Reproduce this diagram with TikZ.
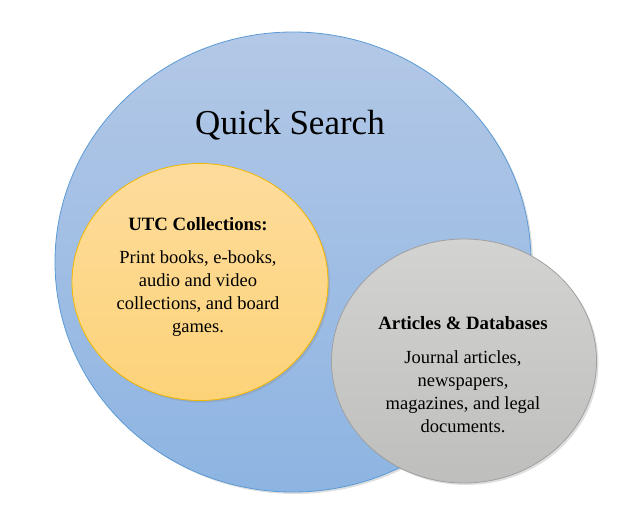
\documentclass[tikz,border=0pt]{standalone}
\usepackage{fontspec}
\setmainfont{Liberation Serif}
\usetikzlibrary{shapes.geometric,shadows,positioning}
\definecolor{searchtop}{HTML}{B3C8E6}
\definecolor{searchbot}{HTML}{8DB4E2}
\definecolor{searchline}{HTML}{5B9BD5}
\definecolor{utctop}{HTML}{FDDC9C}
\definecolor{utcbot}{HTML}{FDD379}
\definecolor{utcline}{HTML}{F2B700}
\definecolor{arttop}{HTML}{D3D4D1}
\definecolor{artbot}{HTML}{BEBFBC}
\definecolor{artline}{HTML}{A0A0A0}
\tikzset{
  blob/.style={ellipse,inner sep=0pt,thick,
    drop shadow={opacity=0.25,shadow xshift=2pt,shadow yshift=-2pt}},
  head/.style={inner sep=0pt,font=\fontsize{18.8}{22}\selectfont\bfseries},
  body/.style={inner sep=0pt,align=center,font=\fontsize{18.5}{23}\selectfont},
}

\begin{document}
\begin{tikzpicture}[x=1pt,y=-1pt]
\useasboundingbox (0,0) rectangle (639,516);

\node[blob,minimum width=476pt,minimum height=460pt,top color=searchtop,
  bottom color=searchbot,draw=searchline] (search) at (293,262) {};
\node[blob,minimum width=256pt,minimum height=237pt,top color=utctop,
  bottom color=utcbot,draw=utcline] (utc) at (200,282) {};
\node[blob,minimum width=265pt,minimum height=244pt,top color=arttop,
  bottom color=artbot,draw=artline] (art) at (464,361) {};

\node[inner sep=0pt,anchor=base,font=\fontsize{35}{40}\selectfont] (qs) at (290,134) {Quick Search};

\node[head,anchor=base] (utchead) at (198,230) {UTC Collections:};
\node[body] (utcbody) at (198,294) {Print books, e-books,\\audio and video\\collections, and board\\games.};

\node[head,anchor=base] (arthead) at (463,329) {Articles \& Databases};
\node[body] (artbody) at (463,392) {Journal articles,\\newspapers,\\magazines, and legal\\documents.};
\end{tikzpicture}
\end{document}
